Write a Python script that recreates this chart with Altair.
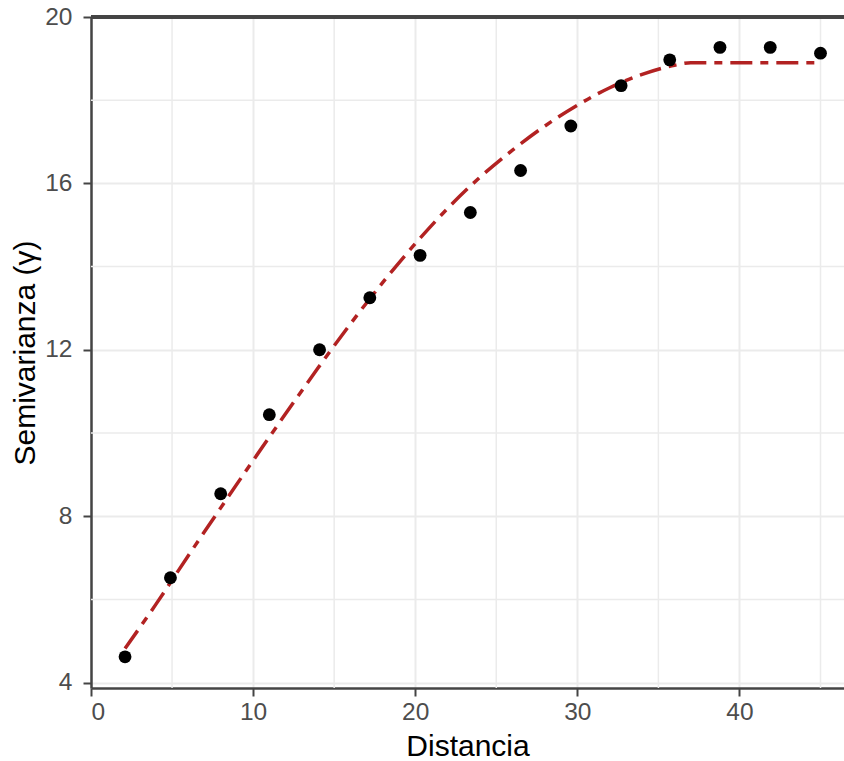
import altair as alt
import pandas as pd

# Empirical semivariogram points
lag = [2.1, 4.9, 8.0, 11.0, 14.1, 17.2, 20.3, 23.4, 26.5, 29.6, 32.7, 35.7, 38.8, 41.9, 45.0]
gamma = [4.62, 6.52, 8.54, 10.44, 12.0, 13.25, 14.27, 15.3, 16.31, 17.38, 18.35, 18.97, 19.27, 19.27, 19.13]

# Fitted model curve
fit_x = [2.1, 4, 6, 8, 10, 12, 14, 16, 18, 20, 22, 24, 26, 28, 30, 32, 34, 36, 37, 45]
fit_y = [4.82, 5.88, 7.05, 8.2, 9.34, 10.46, 11.56, 12.62, 13.62, 14.55, 15.4, 16.15, 16.8,
         17.38, 17.88, 18.3, 18.62, 18.84, 18.9, 18.9]

x_major = [0, 10, 20, 30, 40]
x_minor = [5, 15, 25, 35, 45]
y_major = [4, 8, 12, 16, 20]
y_minor = [6, 10, 14, 18]

pts = pd.DataFrame({"lag": lag, "gamma": gamma})
fit = pd.DataFrame({"lag": fit_x, "gamma": fit_y})
xm = pd.DataFrame({"v": x_minor})
ym = pd.DataFrame({"v": y_minor})

W, H = 753, 671
xscale = alt.Scale(domain=[0, 46.45], nice=False, zero=False)
yscale = alt.Scale(domain=[3.87, 20], nice=False, zero=False)

xaxis = alt.Axis(values=x_major, title="Distancia", grid=True)
yaxis = alt.Axis(values=y_major, title="Semivarianza (γ)", grid=True)

grid_x = alt.Chart(xm).mark_rule(color="#EBEBEB", strokeWidth=1.5).encode(
    x=alt.X("v:Q", scale=xscale, axis=xaxis)
)
grid_y = alt.Chart(ym).mark_rule(color="#EBEBEB", strokeWidth=1.5).encode(
    y=alt.Y("v:Q", scale=yscale, axis=yaxis)
)

line = alt.Chart(fit).mark_line(
    color="#B22222", strokeWidth=3.5, strokeDash=[22, 8, 8, 8], interpolate="monotone"
).encode(
    x=alt.X("lag:Q", scale=xscale, axis=xaxis),
    y=alt.Y("gamma:Q", scale=yscale, axis=yaxis),
)

points = alt.Chart(pts).mark_circle(color="black", opacity=1, size=165).encode(
    x=alt.X("lag:Q", scale=xscale, axis=xaxis),
    y=alt.Y("gamma:Q", scale=yscale, axis=yaxis),
)

top = alt.Chart(pts).mark_rule(color="#444444", strokeWidth=2.5).encode(
    x=alt.value(0), x2=alt.value(W), y=alt.value(0)
)

chart = alt.layer(grid_x, grid_y, line, points, top).properties(
    width=W, height=H,
    autosize="none",
    padding={"left": 91, "top": 17, "right": 0, "bottom": 73},
).configure_view(stroke=None).configure_axis(
    labelFont="Liberation Sans",
    titleFont="Liberation Sans",
    labelFontSize=24.5,
    titleFontSize=30,
    labelColor="#4D4D4D",
    titleColor="black",
    titleFontWeight="normal",
    domainColor="#444444",
    domainWidth=2.5,
    tickColor="#444444",
    tickWidth=2,
    tickSize=8,
    gridColor="#EBEBEB",
    gridWidth=2,
).configure_axisX(
    labelPadding=4, titlePadding=8
).configure_axisY(
    labelPadding=11, titlePadding=4
)

chart.save("out.html", embed_options={"renderer": "svg", "actions": False})
